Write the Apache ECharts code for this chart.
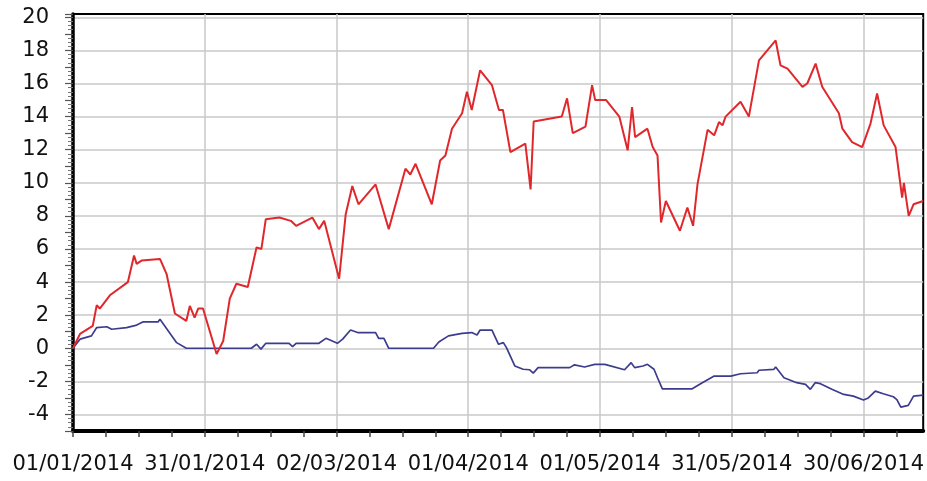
<!DOCTYPE html>
<html>
<head>
<meta charset="utf-8">
<script src="https://cdn.jsdelivr.net/npm/echarts@6/dist/echarts.min.js"></script>
<style>
  html, body { margin: 0; padding: 0; background: #fff; }
  #chart { width: 927px; height: 481px; }
</style>
</head>
<body>
<div id="chart"></div>
<script>
// x values are days counted from 01/01/2014
var startDate = Date.UTC(2014, 0, 1);
var xMax = 193.6;
var yMin = -5, yMax = 20.2;

var redDays = [0, 1.6, 4.5, 5.4, 6.1, 8.4, 12.5, 13.9, 14.5, 15.6, 19.8, 21.3, 23.2, 25.8, 26.6, 27.7, 28.5, 29.6,
  32.7, 34.2, 35.7, 37.2, 39.8, 41.8, 42.9, 43.9, 47, 49.6, 50.8, 54.5, 56, 57.2, 60.6, 62.1, 63.6, 65,
  68.9, 71.9, 75.7, 76.8, 78, 81.7, 83.6, 84.8, 86.3, 88.6, 89.7, 90.8, 92.7, 95.4, 97, 97.9, 99.6,
  103, 104.2, 104.9, 111.3, 112.5, 113.8, 116.7, 118.2, 118.9, 121.4, 124.4, 126.3, 127.3, 128, 130.8,
  132, 133.1, 133.9, 135, 138.2, 139.9, 141.2, 142.2, 144.5, 146, 147.1, 147.9, 148.6, 152, 153.9,
  156.2, 160, 161.1, 162.7, 166.1, 167.2, 169.1, 170.6, 174.4, 175.2, 177.4, 179.7, 181.6, 183.1,
  184.6, 187.3, 188.8, 189.2, 190.3, 191.4, 193.6];
var redVals = [0, 0.87, 1.35, 2.6, 2.4, 3.2, 4.0, 5.6, 5.1, 5.3, 5.4, 4.5, 2.1, 1.65, 2.56, 1.85, 2.4, 2.4,
  -0.35, 0.44, 3.0, 3.9, 3.7, 6.1, 6.0, 7.8, 7.9, 7.7, 7.4, 7.9, 7.2, 7.7, 4.2, 8.1, 9.8, 8.7,
  9.9, 7.2, 10.85, 10.5, 11.15, 8.7, 11.35, 11.65, 13.27, 14.2, 15.5, 14.4, 16.8, 15.9, 14.4, 14.4, 11.85,
  12.36, 9.6, 13.7, 14.0, 15.1, 13.0, 13.4, 15.9, 15.0, 15.0, 14.0, 11.96, 14.58, 12.76, 13.27,
  12.16, 11.65, 7.6, 8.9, 7.1, 8.5, 7.4, 9.9, 13.2, 12.87, 13.67, 13.47, 14.0, 14.9, 14.0,
  17.4, 18.6, 17.1, 16.9, 15.8, 16.0, 17.2, 15.8, 14.2, 13.27, 12.46, 12.16, 13.58, 15.4,
  13.47, 12.16, 9.1, 10.0, 8.0, 8.7, 8.9];

var blueDays = [0, 1.6, 4.2, 5.4, 7.7, 8.8, 12.2, 14.5, 16, 19.4, 19.8, 21.7, 23.6, 25.8, 40.6, 41.8, 42.8,
  43.9, 49.2, 50, 50.8, 56, 57.6, 60.2, 61.4, 63.2, 64.8, 68.9, 69.6, 70.8, 71.9, 82.1, 83.3, 85.5,
  88.6, 90.8, 92, 92.7, 95.4, 96.9, 98, 98.7, 100.6, 102.5, 104, 104.8, 105.9, 113.1, 114.2, 116.5,
  118.8, 121.1, 125.6, 127.1, 127.9, 129.8, 130.8, 132.3, 133.1, 134.2, 141, 143.3, 146, 149.8, 152,
  155.8, 156.2, 159.6, 160, 161.9, 164.8, 166.8, 167.9, 169, 170.2, 172.8, 175.5, 177.7, 180, 181.1,
  182.7, 184.5, 186.8, 187.6, 188.5, 190.2, 191.4, 193.6];
var blueVals = [0, 0.55, 0.75, 1.25, 1.3, 1.15, 1.25, 1.4, 1.6, 1.6, 1.75, 1.05, 0.34, 0, 0, 0.24, -0.05,
  0.3, 0.3, 0.1, 0.3, 0.3, 0.6, 0.3, 0.55, 1.1, 0.95, 0.95, 0.6, 0.6, 0, 0, 0.38, 0.75,
  0.9, 0.95, 0.8, 1.1, 1.1, 0.24, 0.34, 0.04, -1.07, -1.27, -1.3, -1.5, -1.17, -1.17, -1.0, -1.13,
  -0.97, -0.97, -1.3, -0.87, -1.17, -1.07, -0.97, -1.27, -1.78, -2.45, -2.45, -2.08, -1.68, -1.68, -1.54,
  -1.48, -1.33, -1.27, -1.13, -1.78, -2.08, -2.18, -2.48, -2.08, -2.14, -2.48, -2.79, -2.89, -3.13, -3.0,
  -2.59, -2.75, -2.93, -3.1, -3.56, -3.45, -2.89, -2.83];

function pairs(days, vals) {
  return days.map(function (d, i) { return [d, vals[i]]; });
}

function pad(n) { return n < 10 ? '0' + n : '' + n; }

function dayLabel(v) {
  if (Math.abs(v % 30) > 1e-6) return '';
  var d = new Date(startDate + v * 86400000);
  return pad(d.getUTCDate()) + '/' + pad(d.getUTCMonth() + 1) + '/' + d.getUTCFullYear();
}

var clear = 'rgba(0,0,0,0)';
var gridGrey = '#c9c9c9';

var chart = echarts.init(document.getElementById('chart'));
chart.setOption({
  animation: false,
  backgroundColor: '#fff',
  grid: {
    left: 73, right: 2, top: 14, bottom: 50,
    show: true, borderColor: '#000', borderWidth: 2
  },
  xAxis: {
    type: 'value',
    min: 0,
    max: xMax,
    interval: 7.5,
    axisLine: { onZero: false, lineStyle: { color: '#000', width: 4 } },
    axisTick: { length: 6, lineStyle: { color: '#444', width: 1.5 } },
    axisLabel: {
      formatter: dayLabel,
      showMaxLabel: false,
      margin: 23,
      fontFamily: 'DejaVu Sans',
      fontSize: 21,
      color: '#111'
    },
    splitLine: {
      show: true,
      lineStyle: { color: [gridGrey, clear, clear, clear], width: 1.5 }
    }
  },
  yAxis: {
    type: 'value',
    min: yMin,
    max: yMax,
    interval: 1,
    axisLine: { show: true, onZero: false, lineStyle: { color: '#000', width: 3.5 } },
    axisTick: { show: true, length: 8, lineStyle: { color: '#555', width: 1.2 } },
    minorTick: { show: true, splitNumber: 4, length: 5, lineStyle: { color: '#777', width: 1 } },
    axisLabel: {
      formatter: function (v) { return (v % 2 === 0) ? String(v) : ''; },
      showMaxLabel: false,
      margin: 24,
      fontFamily: 'DejaVu Sans',
      fontSize: 21,
      color: '#111'
    },
    splitLine: {
      show: true,
      lineStyle: { color: [clear, gridGrey], width: 1.5 }
    }
  },
  series: [
    {
      type: 'line',
      data: pairs(blueDays, blueVals),
      showSymbol: false,
      lineStyle: { color: '#3c3c8e', width: 1.7 }
    },
    {
      type: 'line',
      data: pairs(redDays, redVals),
      showSymbol: false,
      lineStyle: { color: '#e0282c', width: 2 }
    }
  ]
});
</script>
</body>
</html>
